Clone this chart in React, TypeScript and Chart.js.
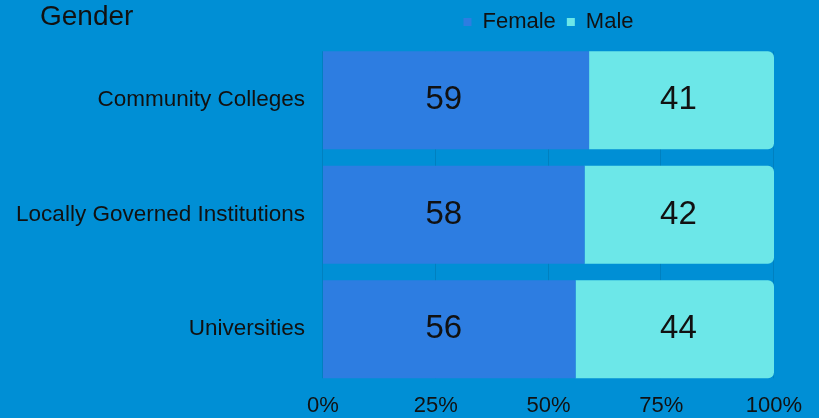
import React, { useEffect, useRef } from 'react';
import { Chart, registerables } from 'chart.js';

Chart.register(...registerables);

const TITLE = 'Gender';
const CATEGORIES = ['Community Colleges', 'Locally Governed Institutions', 'Universities'];
const SERIES_NAMES = ['Female', 'Male'];
const FEMALE = [59, 58, 56];
const MALE = [41, 42, 44];
const X_TICKS = [0, 25, 50, 75, 100];
// horizontal anchor (in percent units) where each series' value labels are centred
const LABEL_ANCHORS = [26.8, 78.8];

const BG = '#008FD5';
const FEMALE_COLOR = '#2D7DE1';
const MALE_COLOR = '#6CE7E8';
const TEXT = '#111111';
const FONT = '"Liberation Sans", Arial, Helvetica, sans-serif';

const gridPlugin = {
  id: 'barGrid',
  beforeDatasetsDraw(chart: any) {
    const ctx = chart.ctx;
    const xs = chart.scales.x;
    const metas = chart.getSortedVisibleDatasetMetas();
    if (!metas.length) return;
    const bars = metas[0].data;
    const first = bars[0].getProps(['y', 'height'], true);
    const last = bars[bars.length - 1].getProps(['y', 'height'], true);
    const top = first.y - first.height / 2;
    const bottom = last.y + last.height / 2;
    ctx.save();
    ctx.strokeStyle = 'rgba(0,0,0,0.1)';
    ctx.lineWidth = 1;
    X_TICKS.forEach((v) => {
      const px = Math.round(xs.getPixelForValue(v)) - 0.5;
      ctx.beginPath();
      ctx.moveTo(px, top);
      ctx.lineTo(px, bottom);
      ctx.stroke();
    });
    ctx.restore();
  },
};

const labelPlugin = {
  id: 'valueLabels',
  afterDatasetsDraw(chart: any) {
    const ctx = chart.ctx;
    const xs = chart.scales.x;
    ctx.save();
    ctx.font = `33px ${FONT}`;
    ctx.fillStyle = TEXT;
    ctx.textAlign = 'center';
    ctx.textBaseline = 'middle';
    chart.getSortedVisibleDatasetMetas().forEach((meta: any) => {
      const ds = chart.data.datasets[meta.index];
      meta.data.forEach((el: any, j: number) => {
        const { y } = el.getProps(['y'], true);
        const px = xs.getPixelForValue(LABEL_ANCHORS[meta.index]);
        ctx.fillText(String(ds.data[j]), px, y);
      });
    });
    ctx.restore();
  },
};

const titlePlugin = {
  id: 'cornerTitle',
  afterDraw(chart: any) {
    const ctx = chart.ctx;
    ctx.save();
    ctx.font = `28px ${FONT}`;
    ctx.fillStyle = TEXT;
    ctx.textAlign = 'left';
    ctx.textBaseline = 'alphabetic';
    ctx.fillText(TITLE, 40, 25);
    ctx.restore();
  },
};

export default function App() {
  const ref = useRef<HTMLCanvasElement>(null);

  useEffect(() => {
    document.body.style.margin = '0';
    document.body.style.background = BG;
    const canvas = ref.current;
    if (!canvas) return;
    const chart = new Chart(canvas, {
      type: 'bar',
      data: {
        labels: CATEGORIES,
        datasets: [
          {
            label: SERIES_NAMES[0],
            data: FEMALE,
            backgroundColor: FEMALE_COLOR,
            borderWidth: 0,
            barPercentage: 0.856,
            categoryPercentage: 1,
          },
          {
            label: SERIES_NAMES[1],
            data: MALE,
            backgroundColor: MALE_COLOR,
            borderWidth: 0,
            borderRadius: { topLeft: 0, bottomLeft: 0, topRight: 6, bottomRight: 6 },
            barPercentage: 0.856,
            categoryPercentage: 1,
          },
        ],
      },
      options: {
        indexAxis: 'y',
        responsive: false,
        animation: false,
        layout: { padding: { right: 45, bottom: 0 } },
        plugins: {
          legend: {
            position: 'top',
            fullSize: false,
            labels: {
              boxWidth: 8,
              boxHeight: 8,
              padding: 11,
              color: TEXT,
              font: { family: FONT, size: 22 },
            },
          },
          title: { display: false },
          tooltip: { enabled: false },
        },
        scales: {
          x: {
            stacked: true,
            min: 0,
            max: 100,
            grid: { display: false, drawTicks: false },
            border: { display: false },
            ticks: {
              stepSize: 25,
              padding: 8,
              color: TEXT,
              font: { family: FONT, size: 22, lineHeight: 1 },
              callback: (v: any) => `${v}%`,
            },
            afterFit: (s: any) => {
              s.height = 31;
            },
          },
          y: {
            stacked: true,
            grid: { display: false, drawTicks: false },
            border: { display: false },
            ticks: {
              padding: 18,
              color: TEXT,
              font: { family: FONT, size: 22.5 },
            },
            afterFit: (s: any) => {
              s.width = 323;
            },
          },
        },
      },
      plugins: [gridPlugin, labelPlugin, titlePlugin],
    });
    return () => chart.destroy();
  }, []);

  return (
    <div style={{ width: 819, height: 418, background: BG }}>
      <canvas ref={ref} width={819} height={418} style={{ display: 'block' }} />
    </div>
  );
}
